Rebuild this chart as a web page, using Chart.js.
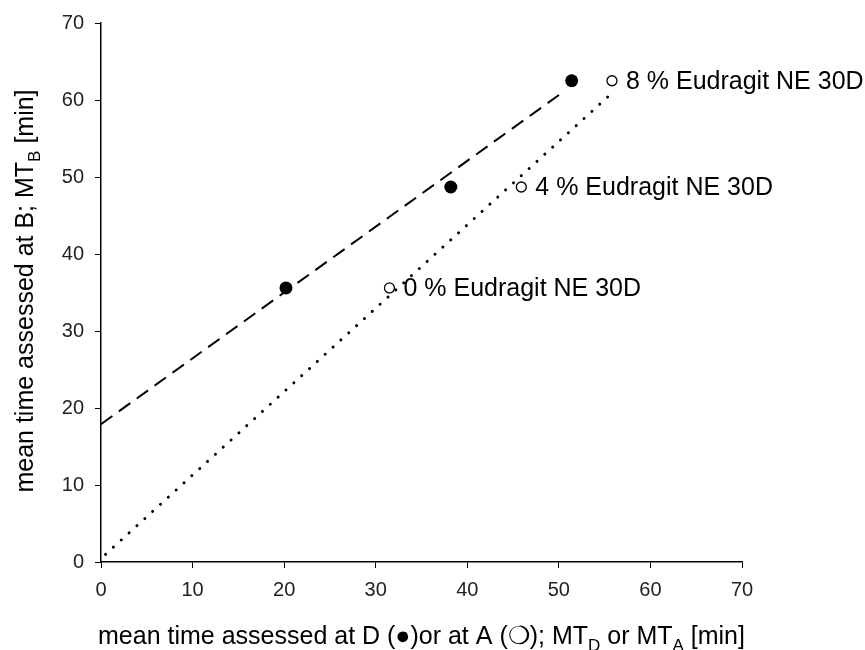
<!DOCTYPE html>
<html>
<head>
<meta charset="utf-8">
<script src="https://cdn.jsdelivr.net/npm/chart.js@4.4.1/dist/chart.umd.min.js"></script>
<style>
  html, body { margin: 0; padding: 0; background: #fff; }
  #box { width: 865px; height: 650px; }
</style>
</head>
<body>
<div id="box"><canvas id="grafico"></canvas></div>
<script>
// coating levels (labels next to the open points)
const rotulos = ["0 % Eudragit NE 30D", "4 % Eudragit NE 30D", "8 % Eudragit NE 30D"];

// mean times [min]
const mtD = [20.2, 38.2, 51.4];   // filled circles
const mtA = [31.5, 45.9, 55.8];   // open circles
const mtB = [35.6, 48.7, 62.5];   // same B value for both

// regression lines (end points)
const retaD_x = [0, 50.3];
const retaD_y = [17.9, 60.9];
const retaA_x = [0.5, 55.8];
const retaA_y = [1.0, 60.9];

const eixoTicks = [0, 10, 20, 30, 40, 50, 60, 70];

const FONTE = "'Liberation Sans', Arial, sans-serif";

function pares(xs, ys) {
  return xs.map((x, i) => ({ x: x, y: ys[i] }));
}

// draws text with subscript parts, [{t, sub}], centred on x
function textoComIndice(ctx, partes, x, y, tam) {
  const tamSub = Math.round(tam * 0.66);
  let larg = 0;
  partes.forEach(p => {
    ctx.font = (p.sub ? tamSub : tam) + "px " + FONTE;
    p.w = ctx.measureText(p.t).width;
    larg += p.w;
  });
  let cx = x - larg / 2;
  ctx.textAlign = "left";
  ctx.textBaseline = "alphabetic";
  partes.forEach(p => {
    ctx.font = (p.sub ? tamSub : tam) + "px " + FONTE;
    ctx.fillText(p.t, cx, y + (p.sub ? tam * 0.28 : 0));
    cx += p.w;
  });
}

const textosPlugin = {
  id: "textos",
  afterDraw(chart) {
    const ctx = chart.ctx;
    const sx = chart.scales.x;
    const sy = chart.scales.y;
    ctx.save();
    ctx.fillStyle = "#000";

    // labels beside the open points
    ctx.font = "25px " + FONTE;
    ctx.textAlign = "left";
    ctx.textBaseline = "middle";
    rotulos.forEach((r, i) => {
      ctx.fillText(r, sx.getPixelForValue(mtA[i]) + 14, sy.getPixelForValue(mtB[i]) + 1);
    });

    // x axis title
    textoComIndice(ctx, [
      { t: "mean time assessed at D (" }, { t: "\u25CF" }, { t: ")or at A (" }, { t: "\u274D" },
      { t: "); MT" }, { t: "D", sub: true }, { t: " or MT" }, { t: "A", sub: true }, { t: " [min]" }
    ], (chart.chartArea.left + chart.chartArea.right) / 2, 644, 25);

    // y axis title
    ctx.translate(33, 291);
    ctx.rotate(-Math.PI / 2);
    textoComIndice(ctx, [
      { t: "mean time assessed at B; MT" }, { t: "B", sub: true }, { t: " [min]" }
    ], 0, 0, 25);

    ctx.restore();
  }
};

function eixo(pos) {
  return {
    type: "linear",
    position: pos,
    min: 0,
    max: 70,
    afterBuildTicks: s => { s.ticks = eixoTicks.map(v => ({ value: v })); },
    afterFit: s => {
      if (pos === "left") s.width = 101;
      else s.height = 88;
    },
    grid: {
      drawOnChartArea: false,
      drawTicks: true,
      tickLength: 6,
      color: "#000",
      lineWidth: 1
    },
    border: { display: true, color: "#000", width: 1.5 },
    ticks: {
      color: "#222",
      font: { family: FONTE, size: 20 },
      padding: pos === "left" ? 11 : 10,
      maxRotation: 0
    }
  };
}

new Chart(document.getElementById("grafico").getContext("2d"), {
  type: "scatter",
  data: {
    datasets: [
      {
        label: "D",
        data: pares(mtD, mtB),
        pointRadius: 6.5,
        pointBackgroundColor: "#000",
        pointBorderColor: "#000",
        pointBorderWidth: 0
      },
      {
        label: "A",
        data: pares(mtA, mtB),
        pointRadius: 5,
        pointBackgroundColor: "#fff",
        pointBorderColor: "#000",
        pointBorderWidth: 1.3
      },
      {
        label: "reta D",
        type: "line",
        data: pares(retaD_x, retaD_y),
        borderColor: "#000",
        borderWidth: 2,
        borderDash: [14, 8],
        pointRadius: 0,
        fill: false
      },
      {
        label: "reta A",
        type: "line",
        data: pares(retaA_x, retaA_y),
        borderColor: "#000",
        borderWidth: 3,
        borderDash: [0.01, 10.6],
        borderCapStyle: "round",
        pointRadius: 0,
        fill: false
      }
    ]
  },
  options: {
    responsive: true,
    maintainAspectRatio: false,
    animation: false,
    layout: { padding: { left: 0, top: 23, right: 123, bottom: 0 } },
    plugins: {
      legend: { display: false },
      tooltip: { enabled: false }
    },
    scales: {
      x: eixo("bottom"),
      y: eixo("left")
    }
  },
  plugins: [textosPlugin]
});
</script>
</body>
</html>
